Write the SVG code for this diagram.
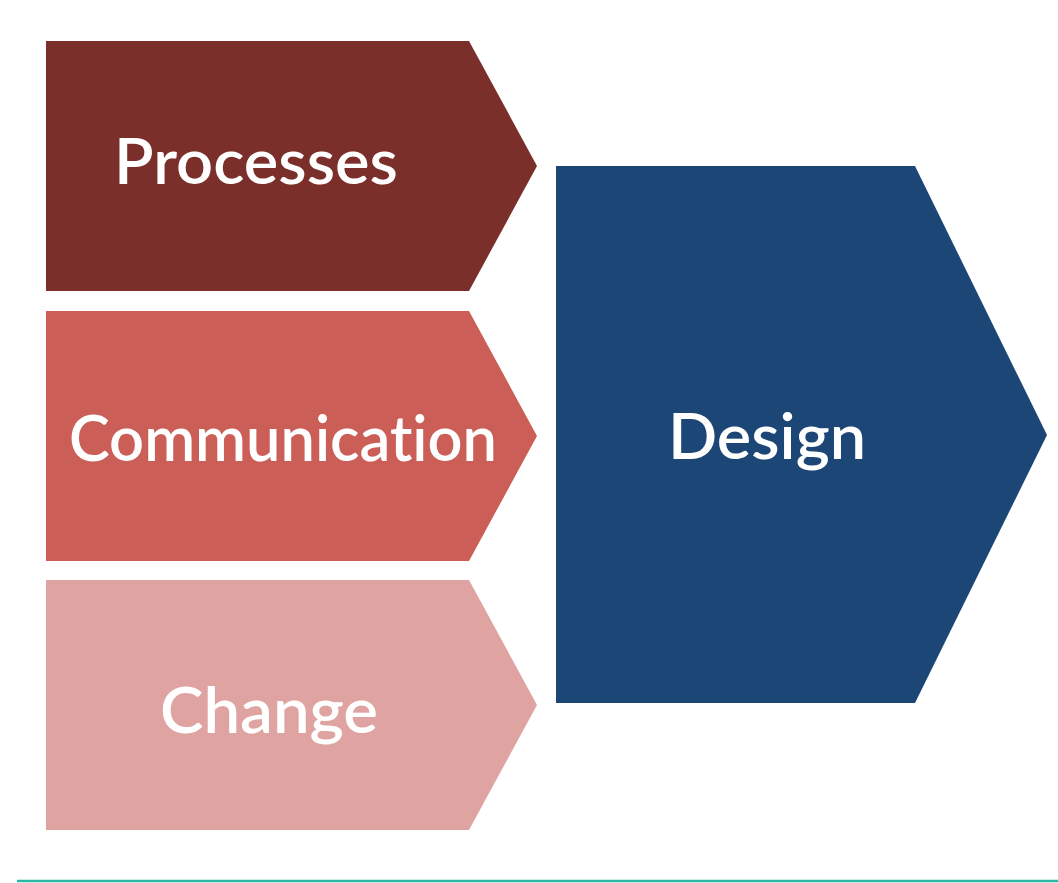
<svg xmlns="http://www.w3.org/2000/svg" width="1058" height="883" viewBox="0 0 1058 883">
<style>
.lbl{font-family:"Lato","Open Sans","Liberation Sans",sans-serif;font-size:64px;fill:#ffffff;text-anchor:middle;font-weight:600;font-variant-ligatures:none}
</style>
<rect width="1058" height="883" fill="#ffffff"/>
<g id="processes">
<polygon points="46,41 469,41 537,166 469,291 46,291" fill="#7b2f2b"/>
<text class="lbl" x="256" y="184" textLength="284" lengthAdjust="spacingAndGlyphs">Processes</text>
</g>
<g id="communication">
<polygon points="46,311 469,311 537,436 469,561 46,561" fill="#cb5f58"/>
<text class="lbl" x="283" y="461" textLength="428" lengthAdjust="spacingAndGlyphs">Communication</text>
</g>
<g id="change">
<polygon points="46,580 469,580 537,705 469,830 46,830" fill="#dfa4a1"/>
<text class="lbl" x="269" y="733" textLength="218" lengthAdjust="spacingAndGlyphs">Change</text>
</g>
<g id="design">
<polygon points="556,166 915,166 1047,435 915,703 556,703" fill="#1b4676"/>
<text class="lbl" x="767" y="459" textLength="198" lengthAdjust="spacingAndGlyphs">Design</text>
</g>
<g id="connectors"></g>
<line x1="17" y1="881" x2="1058" y2="881" stroke="#2bb5a5" stroke-width="2.5"/>
</svg>
